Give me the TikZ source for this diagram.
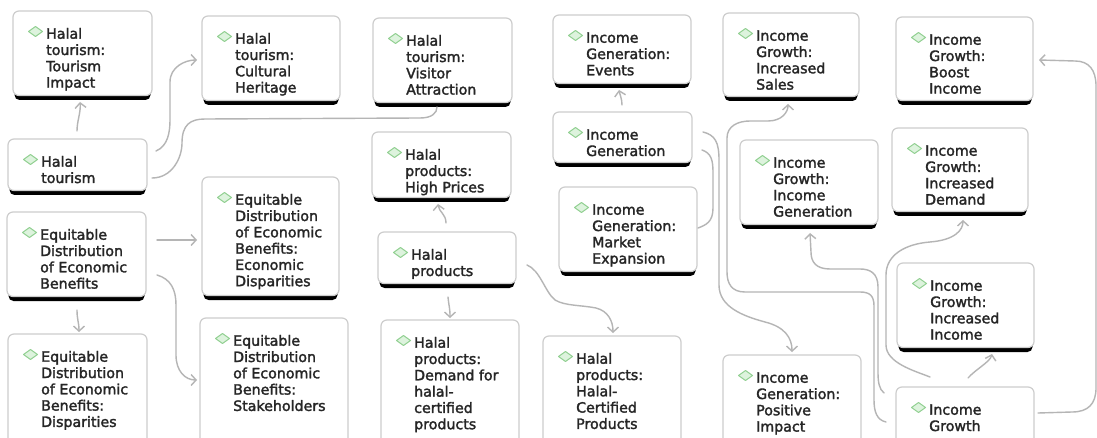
\documentclass[tikz,border=0pt]{standalone}
\usepackage{fontspec}
\setmainfont{DejaVu Sans}
\newfontfamily\boxfont{DejaVu Sans}[RawFeature={embolden=2}]
\usetikzlibrary{arrows.meta,calc}
\definecolor{bordc}{HTML}{CDCDCD}
\definecolor{linec}{HTML}{B5B5B5}
\definecolor{txtc}{HTML}{262626}
\definecolor{dfill}{HTML}{DDF3DD}
\definecolor{dline}{HTML}{92D092}
\tikzset{
  boxst/.style={draw=bordc, line width=1.2pt, fill=white, rounded corners=6pt, inner sep=0pt, outer sep=0pt},
  barst/.style={fill=black, rounded corners=5pt},
  txtst/.style={align=left, inner sep=0pt, text=txtc, font=\boxfont\fontsize{14.2}{16.3}\selectfont},
  diamst/.style={draw=dline, fill=dfill, line width=1pt, line join=round},
  conn/.style={draw=linec, line width=1.4pt, line cap=round, -{Straight Barb[length=5pt,width=11pt]}},
  connn/.style={draw=linec, line width=1.4pt, line cap=round},
}
\newcommand\bbox[6]{%
  \fill[barst] (#2+1.5,#3+8) rectangle (#4-1.5,#5);
  \node[boxst, anchor=north west, minimum width={#4-#2}, minimum height={#5-#3-4.5}] (#1) at (#2,#3) {};
  \filldraw[diamst] ([shift={(15.5,20.5)}]#1.north west) -- ++(7,-5) -- ++(7,5) -- ++(-7,5) -- cycle;
  \node[txtst, anchor=north west] (#1-t) at ([shift={(33,16.5)}]#1.north west) {\rule{0pt}{11pt}#6};
}
\begin{document}
\begin{tikzpicture}[x=1pt,y=-1pt]
\useasboundingbox (0,0) rectangle (1097,438);
\clip (0,0) rectangle (1097,438);
\fill[white] (0,0) rectangle (1097,438);
% boxes
\bbox{TI}{13}{11}{152}{100}{Halal\\tourism:\\Tourism\\Impact}
\bbox{CH}{202}{16}{340}{105}{Halal\\tourism:\\Cultural\\Heritage}
\bbox{HT}{8}{139}{147}{195}{Halal\\tourism}
\bbox{VA}{373}{18}{512}{107}{Halal\\tourism:\\Visitor\\Attraction}
\bbox{HP}{372}{132}{511}{202}{Halal\\products:\\High Prices}
\bbox{IGE}{553}{15}{691}{88}{Income\\Generation:\\Events}
\bbox{IG}{553}{112}{692}{167}{Income\\Generation}
\bbox{ME}{559}{187}{697}{276}{Income\\Generation:\\Market\\Expansion}
\bbox{HPR}{378}{232}{516}{288}{Halal\\products}
\bbox{DEM}{381}{320}{519}{460}{Halal\\products:\\Demand for\\halal-\\certified\\products}
\bbox{HCP}{543}{336}{681}{460}{Halal\\products:\\Halal-\\Certified\\Products}
\bbox{EDEB}{7}{212}{146}{301}{Equitable\\Distribution\\of Economic\\Benefits}
\bbox{ED}{202}{177}{339}{300}{Equitable\\Distribution\\of Economic\\Benefits:\\Economic\\Disparities}
\bbox{DIS}{8}{334}{147}{460}{Equitable\\Distribution\\of Economic\\Benefits:\\Disparities}
\bbox{STK}{200}{318}{348}{460}{Equitable\\Distribution\\of Economic\\Benefits:\\Stakeholders}
\bbox{IS}{723}{13}{859}{101}{Income\\Growth:\\Increased\\Sales}
\bbox{BI}{896}{17}{1033}{105}{Income\\Growth:\\Boost\\Income}
\bbox{GIG}{740}{140}{878}{229}{Income\\Growth:\\Income\\Generation}
\bbox{IDM}{892}{128}{1028}{216}{Income\\Growth:\\Increased\\Demand}
\bbox{IIN}{897}{263}{1034}{352}{Income\\Growth:\\Increased\\Income}
\bbox{PI}{723}{355}{861}{460}{Income\\Generation:\\Positive\\Impact}
\bbox{IGR}{896}{387}{1034}{460}{Income\\Growth}
% connectors
\draw[conn] ([shift={(69,-8)}]HT.north west) .. controls +(0,-10) and +(1,10) .. ([shift={(67,91)}]TI.north west);
\draw[conn] ([shift={(148,12)}]HT.north west) .. controls +(12,-5) and +(0,12) .. (170,120) -- (170,82) .. controls +(0,-15) and +(-12,0) .. ([shift={(-5,44)}]CH.north west);
\draw[connn] ([shift={(144,39)}]HT.north west) .. controls +(20,0) and +(0,15) .. (182,143) .. controls +(0,-18) and +(-15,0) .. (205,119) -- (420,118) .. controls +(12,0) and +(0,6) .. ([shift={(64,89)}]VA.north west);
\draw[conn] ([shift={(150,28)}]EDEB.north west) -- ([shift={(-5,63)}]ED.north west);
\draw[conn] ([shift={(150,63)}]EDEB.north west) .. controls +(14,4) and +(0,-15) .. (176,305) -- (176,355) .. controls +(0,16) and +(-12,0) .. ([shift={(-3,62)}]STK.north west);
\draw[conn] ([shift={(70,98)}]EDEB.north west) .. controls +(0,10) and +(0,-10) .. ([shift={(71,-2)}]DIS.north west);
\draw[conn] ([shift={(68,-9)}]HPR.north west) .. controls +(0,-9) and +(1,8) .. ([shift={(66,72)}]HP.north west);
\draw[conn] ([shift={(70,65)}]HPR.north west) .. controls +(1,10) and +(0,-10) .. ([shift={(69,-2)}]DEM.north west);
\draw[conn] ([shift={(149,33)}]HPR.north west) .. controls +(13,5) and +(-10,-8) .. (555,300) .. controls +(10,6) and +(-15,-3) .. (596,308) .. controls +(12,3) and +(0,-12) .. ([shift={(70,-3)}]HCP.north west);
\draw[conn] ([shift={(69,-7)}]IG.north west) .. controls +(0,-6) and +(1,5) .. ([shift={(66,75)}]IGE.north west);
\draw[connn] ([shift={(149,38)}]IG.north west) .. controls +(9,3) and +(0,-12) .. (713,172) -- (713,208) .. controls +(0,14) and +(8,-3) .. ([shift={(139,41)}]ME.north west);
\draw[conn] ([shift={(150,20)}]IG.north west) .. controls +(12,3) and +(0,-18) .. (719,160) -- (719,285) .. controls +(0,22) and +(-22,-6) .. (765,322) .. controls +(20,5) and +(0,-14) .. ([shift={(69,-3)}]PI.north west);
\draw[conn] ([shift={(-10,35)}]IGR.north west) .. controls +(-9,-2) and +(0,12) .. (874,400) -- (874,306) .. controls +(0,-10) and +(10,0) .. (860,292) -- (745,292) .. controls +(-13,0) and +(0,12) .. (727,272) -- (727,138) .. controls +(0,-12) and +(-12,0) .. (750,121) -- (768,121) .. controls +(14,0) and +(0,8) .. ([shift={(65,91)}]IS.north west);
\draw[conn] ([shift={(-12,6)}]IGR.north west) .. controls +(-5,-4) and +(0,10) .. (878,372) -- (878,287) .. controls +(0,-14) and +(10,0) .. (860,269) -- (830,269) .. controls +(-14,0) and +(0,10) .. (811,252) -- ([shift={(70,93)}]GIG.north west);
\draw[conn] ([shift={(34,-10)}]IGR.north west) .. controls +(-15,-6) and +(0,18) .. (886,345) -- (886,275) .. controls +(0,-20) and +(-25,2) .. (930,242) .. controls +(25,-2) and +(0,10) .. ([shift={(71,92)}]IDM.north west);
\draw[conn] ([shift={(72,-9)}]IGR.north west) .. controls +(8,-9) and +(-2,8) .. ([shift={(95,91)}]IIN.north west);
\draw[conn] ([shift={(142,26)}]IGR.north west) -- (1072,412) .. controls +(16,0) and +(0,16) .. (1096,388) -- (1096,86) .. controls +(0,-16) and +(14,0) .. (1075,61) -- ([shift={(143,43)}]BI.north west);
\end{tikzpicture}
\end{document}
